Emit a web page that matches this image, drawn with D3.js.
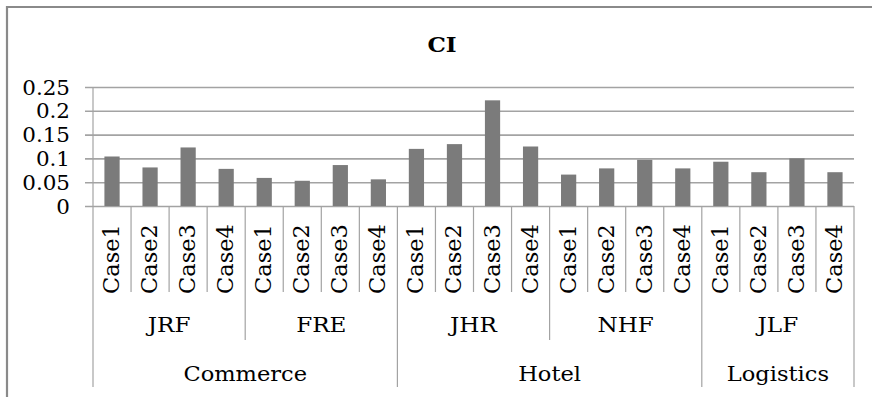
<!DOCTYPE html>
<html>
<head>
<meta charset="utf-8">
<script src="https://cdn.jsdelivr.net/npm/d3@7"></script>
<style>
  html, body { margin: 0; padding: 0; background: #fff; }
  svg { display: block; }
  text { font-family: "DejaVu Serif", "Liberation Serif", serif; fill: #000; }
</style>
</head>
<body>
<svg id="chart" width="872" height="397"></svg>
<script>
// Data
const sectors = ["Commerce", "Hotel", "Logistics"];
const funds = ["JRF", "FRE", "JHR", "NHF", "JLF"];
const fundSector = ["Commerce", "Commerce", "Hotel", "Hotel", "Logistics"];
const cases = ["Case1", "Case2", "Case3", "Case4"];
const ciValues = [
  0.104, 0.081, 0.123, 0.078,   // JRF
  0.059, 0.053, 0.086, 0.056,   // FRE
  0.120, 0.130, 0.222, 0.125,   // JHR
  0.066, 0.079, 0.097, 0.079,   // NHF
  0.093, 0.071, 0.100, 0.071    // JLF
];
const yTicks = [0, 0.05, 0.1, 0.15, 0.2, 0.25];
const yTickLabels = ["0", "0.05", "0.1", "0.15", "0.2", "0.25"];
const title = "CI";

(function () {
  // Flattened category list: one entry per fund/case pair
  const rows = [];
  funds.forEach((f, fi) => cases.forEach((c, ci) => {
    rows.push({ id: f + "-" + c, fund: f, sector: fundSector[fi], label: c, value: ciValues[fi * cases.length + ci] });
  }));

  const svg = d3.select("#chart");
  const plotLeft = 93, plotRight = 854, plotTop = 87, plotBottom = 206;
  const caseLineEnd = 292, fundLineEnd = 340, sectorLineEnd = 387;
  const gridColor = "#a3a3a3";
  const barColor = "#7b7b7b";
  const sx = 1.1; // horizontal glyph stretch

  const x = d3.scaleBand().domain(rows.map(d => d.id)).range([plotLeft, plotRight])
    .paddingInner(0.6).paddingOuter(0.3);
  const y = d3.scaleLinear().domain([0, 0.25]).range([plotBottom, plotTop]);
  const step = x.step();
  const edge = i => plotLeft + i * step;

  // Outer chart border (top and left edges)
  svg.append("path")
    .attr("d", `M7,400 L7,7 L875,7`)
    .attr("fill", "none").attr("stroke", "#8a8a8a").attr("stroke-width", 2.2);

  // Title
  svg.append("text")
    .attr("transform", `translate(442,52) scale(${sx},1)`)
    .attr("text-anchor", "middle")
    .attr("font-size", 21).attr("font-weight", "bold")
    .text(title);

  // Gridlines and y-axis labels
  const yAxis = d3.axisLeft(y).tickValues(yTicks)
    .tickSize(-(plotRight - plotLeft)).tickSizeOuter(0)
    .tickFormat((d, i) => yTickLabels[i]);
  const gy = svg.append("g").attr("transform", `translate(${plotLeft},0)`).call(yAxis);
  gy.select(".domain").remove();
  gy.selectAll(".tick line").attr("x1", -8).attr("stroke", gridColor).attr("stroke-width", 1.6);
  gy.selectAll(".tick text")
    .attr("x", null).attr("dy", null)
    .attr("transform", `translate(-23,7) scale(${sx},1)`)
    .attr("font-family", '"DejaVu Serif", serif')
    .attr("font-size", 19.5).attr("fill", "#000");

  // Bars
  svg.append("g").selectAll("rect").data(rows).join("rect")
    .attr("x", d => x(d.id))
    .attr("width", x.bandwidth())
    .attr("y", d => y(d.value))
    .attr("height", d => y(0) - y(d.value))
    .attr("fill", barColor);

  // Category axis separators (three levels)
  const lines = svg.append("g").attr("stroke", gridColor).attr("stroke-width", 1.2);
  for (let i = 0; i <= rows.length; i++) {
    let end = caseLineEnd;
    const atFund = i % cases.length === 0;
    const atSector = i === 0 || i === rows.length || (atFund && rows[i - 1].sector !== rows[i].sector);
    if (atSector) end = sectorLineEnd;
    else if (atFund) end = fundLineEnd;
    lines.append("line")
      .attr("x1", edge(i)).attr("x2", edge(i))
      .attr("y1", i === 0 ? plotTop : plotBottom).attr("y2", end);
  }

  // Case labels (rotated)
  svg.append("g").selectAll("text").data(rows).join("text")
    .attr("transform", d => `translate(${x(d.id) + x.bandwidth() / 2 + 7},294) rotate(-90)`)
    .attr("font-size", 22.5)
    .text(d => d.label);

  // Fund labels
  svg.append("g").selectAll("text").data(funds).join("text")
    .attr("transform", (f, i) => `translate(${(edge(i * 4) + edge(i * 4 + 4)) / 2},332) scale(${sx},1)`)
    .attr("text-anchor", "middle").attr("font-size", 21)
    .text(f => f);

  // Sector labels
  sectors.forEach(s => {
    const idx = rows.map((r, i) => r.sector === s ? i : -1).filter(i => i >= 0);
    const cx = (edge(idx[0]) + edge(idx[idx.length - 1] + 1)) / 2;
    svg.append("text")
      .attr("transform", `translate(${cx},381) scale(${sx},1)`)
      .attr("text-anchor", "middle").attr("font-size", 20.5)
      .text(s);
  });
})();
</script>
</body>
</html>
